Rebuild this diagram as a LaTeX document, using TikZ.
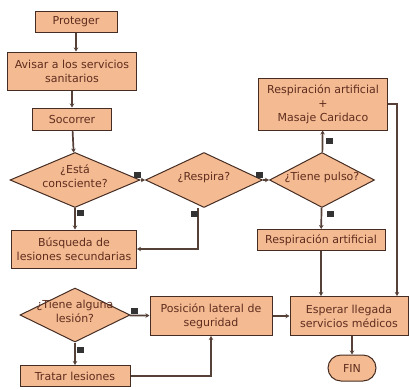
\documentclass[tikz,border=0pt]{standalone}
\usepackage{fontspec}
\setmainfont{DejaVu Sans}
\usetikzlibrary{shapes.geometric,shapes.misc,arrows.meta}
\definecolor{salmon}{RGB}{244,186,146}
\definecolor{borde}{RGB}{70,45,35}
\definecolor{linea}{RGB}{85,65,55}
\definecolor{letra}{RGB}{95,45,30}
% texto que no cambia la medida del rombo
\newcommand{\sinmedida}[1]{\makebox[0pt]{\smash{\begin{tabular}{@{}c@{}}#1\end{tabular}}}}
\begin{document}
\begin{tikzpicture}[x=1pt,y=-1pt,
    caja/.style={draw=borde,fill=salmon,line width=1pt,text=letra,font=\fontsize{11}{14}\selectfont,align=center,inner sep=0pt},
    rombo/.style={caja,diamond,inner sep=0pt},
    flecha/.style={draw=linea,line width=1.7pt,-{Stealth[length=4pt,width=4.5pt]}},
    marca/.style={fill=black!80,minimum width=7pt,minimum height=6pt,inner sep=0pt}]
            \useasboundingbox (0,0) rectangle (410,389);

            \node[caja,minimum width=82pt,minimum height=21pt] (proteger) at (76,22) {Proteger};
            \node[caja,minimum width=129pt,minimum height=38pt] (avisar) at (72,71) {Avisar a los servicios\\sanitarios};
            \node[caja,minimum width=79pt,minimum height=22pt] (socorrer) at (72,119) {Socorrer};
            \node[rombo,minimum width=130pt,minimum height=55pt] (consciente) at (75,180) {\sinmedida{¿Está\\consciente?}};
            \node[rombo,minimum width=117pt,minimum height=55pt] (respira) at (204,180) {\sinmedida{¿Respira?}};
            \node[rombo,minimum width=105pt,minimum height=55pt] (pulso) at (322,180) {\sinmedida{¿Tiene pulso?}};
            \node[caja,minimum width=129pt,minimum height=52pt] (masaje) at (323,104) {Respiración artificial\\+\\Masaje Caridaco};
            \node[caja,minimum width=125pt,minimum height=38pt] (busqueda) at (74,249) {Búsqueda de\\lesiones secundarias};
            \node[caja,minimum width=128pt,minimum height=21pt] (respiracion) at (321,240) {Respiración artificial};
            \node[rombo,minimum width=110pt,minimum height=54pt] (lesion) at (75,315) {\sinmedida{¿Tiene alguna\\lesión?}};
            \node[caja,minimum width=122pt,minimum height=39pt] (posicion) at (211,316) {Posición lateral de\\seguridad};
            \node[caja,minimum width=118pt,minimum height=39pt] (esperar) at (349,316) {Esperar llegada\\servicios médicos};
            \node[caja,rounded rectangle,minimum width=48pt,minimum height=26pt] (fin) at (352,368) {FIN};
            \node[caja,minimum width=110pt,minimum height=21pt] (tratar) at (75,376) {Tratar lesiones};

            \draw[flecha] (proteger) -- (proteger |- avisar.north);
            \draw[flecha] (avisar) -- (socorrer);
            \draw[flecha] (socorrer) -- (consciente);
            \draw[flecha] (consciente) -- (respira);
            \draw[flecha] (respira) -- (pulso);
            \draw[flecha] (consciente) -- (consciente |- busqueda.north);
            \draw[flecha] ([xshift=-6pt]respira.south) |- (busqueda.east);
            \draw[flecha] (pulso) -- (masaje);
            \draw[flecha] (pulso) -- (respiracion);
            \draw[flecha] (masaje.east) -| ([xshift=48pt]esperar.north);
            \draw[flecha] (respiracion) -- (respiracion |- esperar.north);
            \draw[flecha] (lesion) -- (posicion);
            \draw[flecha] (lesion) -- (tratar);
            \draw[flecha,line width=2.6pt] (tratar.east) -| (posicion.south);
            \draw[flecha] (posicion) -- (esperar);
            \draw[flecha] (esperar.south -| fin) -- (fin);

            \node[marca] (m1) at (137,175) {};
            \node[marca] (m2) at (80,213) {};
            \node[marca] (m3) at (259,175) {};
            \node[marca] (m4) at (194,214) {};
            \node[marca] (m5) at (329,141) {};
            \node[marca] (m6) at (330,214) {};
            \node[marca] (m7) at (134,311) {};
            \node[marca] (m8) at (80,350) {};
\end{tikzpicture}
\end{document}
